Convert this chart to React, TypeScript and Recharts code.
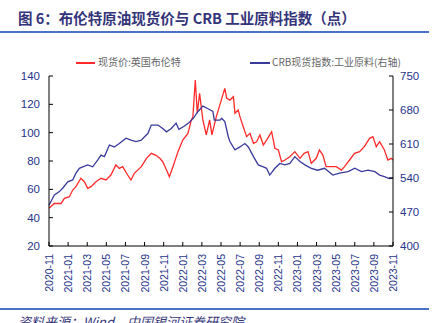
import React from "react";
import { LineChart, Line, XAxis, YAxis } from "recharts";

// months since 2020-11
const brentMonths = [
  0, 0.56, 1.26, 1.61, 2.13, 2.48, 2.82, 3.34, 3.7, 4.05, 4.4, 4.92, 5.44,
  5.96, 6.48, 7.0, 7.36, 7.71, 8.23, 8.58, 8.93, 9.66, 10.2, 10.7, 11.2, 11.6,
  11.9, 12.3, 12.6, 12.97, 13.5, 14.0, 14.54, 14.9, 15.06, 15.31, 15.52, 15.76,
  16.1, 16.46, 16.81, 17.05, 17.51, 18.03, 18.4, 18.6, 18.93, 19.3, 19.46,
  19.8, 19.98, 20.33, 20.68, 21.03, 21.4, 21.73, 22.07, 22.43, 22.77, 23.3,
  23.64, 24.0, 24.34, 24.69, 25.2, 25.73, 26.26, 26.7, 27.1, 27.45, 27.97, 28.3,
  28.66, 29.0, 29.5, 30.06, 30.6, 30.93, 31.45, 31.98, 32.5, 33.0, 33.55, 33.9,
  34.25, 34.6, 35.1, 35.46, 35.8, 36,
];
const brentValues = [
  46.6, 50, 50, 53.6, 54.8, 59.5, 61.9, 67.8, 65.4, 60.7, 61.9, 65.4, 67.8,
  66.6, 70.1, 77.2, 74.8, 76, 70.1, 66.6, 71.3, 76, 81.9, 85.4, 84, 81.9, 79.5,
  73.6, 68.9, 76, 86.6, 94.8, 99.5, 109, 111.3, 137.2, 113.7, 127.8, 109, 98.4,
  109, 98.4, 111.3, 123, 131.3, 124.3, 123, 125.4, 113.7, 116, 111.3, 104.2,
  97.2, 99.5, 92.5, 93.6, 98.4, 91.3, 94.8, 100.7, 89, 87.8, 79.5, 80.7, 83,
  86.6, 81.9, 85.4, 86.6, 78.4, 81.9, 87.8, 84.2, 76, 76, 76, 73.6, 76, 80.7,
  85.4, 86.6, 90.1, 96, 97.2, 90.1, 93.6, 87.8, 80.7, 81.9, 80.7,
];

const crbMonths = [
  0, 0.56, 1.09, 1.43, 1.96, 2.48, 2.82, 3.18, 3.53, 4.05, 4.57, 5.09, 5.44,
  5.8, 6.32, 6.84, 7.36, 8.05, 8.58, 9.1, 9.66, 10.0, 10.36, 10.7, 11.4, 11.9,
  12.3, 12.8, 13.3, 13.6, 14.1, 14.6, 15.1, 15.6, 16.1, 16.6, 17.15, 17.3, 17.9,
  18.07, 18.4, 18.76, 18.93, 19.46, 19.98, 20.5, 20.86, 21.4, 21.9, 22.43,
  22.77, 23.1, 23.64, 24.16, 24.69, 25.2, 25.73, 26.26, 26.78, 27.45, 28.1,
  28.84, 29.7, 30.4, 31.3, 32.0, 32.7, 33.4, 34.1, 34.6, 35.1, 35.6, 36,
];
const crbValues = [
  484, 505, 512, 519, 532, 536, 550, 560, 563, 567, 563, 577, 587, 584, 608,
  604, 611, 622, 618, 615, 618, 625, 632, 649, 649, 642, 635, 642, 653, 640,
  646, 653, 663, 677, 688, 683, 677, 659, 659, 663, 656, 625, 615, 598, 604,
  611, 604, 584, 567, 563, 560, 546, 560, 570, 567, 570, 584, 574, 567, 560,
  556, 560, 546, 550, 553, 560, 553, 556, 553, 546, 543, 539, 540,
];

const xTicks = [0, 2, 4, 6, 8, 10, 12, 14, 16, 18, 20, 22, 24, 26, 28, 30, 32, 34, 36];
const leftTicks = [20, 40, 60, 80, 100, 120, 140];
const rightTicks = [400, 470, 540, 610, 680, 750];

const brentData = brentMonths.map((m, i) => ({ m, brent: brentValues[i] }));
const crbData = crbMonths.map((m, i) => ({ m, crb: crbValues[i] }));

const RED = "#ff2a2a";
const BLUE = "#3a3a9c";
const NAVY = "#27348b";
const RULE = "#4a72c4";

const monthLabel = (v: number) => {
  const total = 2020 * 12 + 10 + v;
  const y = Math.floor(total / 12);
  const mo = (total % 12) + 1;
  return `${y}-${mo < 10 ? "0" + mo : mo}`;
};

const XTick = (props: any) => {
  const { x, payload } = props;
  return (
    <text
      x={x}
      y={254}
      transform={`rotate(-90, ${x}, 254)`}
      textAnchor="end"
      dominantBaseline="central"
      fontSize={10.5}
      fill={NAVY}
      fontFamily="Arial, 'Liberation Sans', sans-serif"
    >
      {monthLabel(payload.value)}
    </text>
  );
};

const tickFont = { fontSize: 11.5, fill: NAVY, fontFamily: "Arial, 'Liberation Sans', sans-serif" };

export default function App() {
  return (
    <div
      style={{
        position: "fixed",
        left: 0,
        top: 0,
        width: 434,
        height: 323,
        background: "#fff",
        overflow: "hidden",
        fontFamily: "'Noto Sans CJK SC', sans-serif",
      }}
    >
      <div
        style={{
          position: "absolute",
          left: 18,
          top: 8,
          fontSize: 14.5,
          fontWeight: 700,
          color: "#34347a",
          whiteSpace: "nowrap",
          lineHeight: "20px",
        }}
      >
        图 6：布伦特原油现货价与 CRB 工业原料指数（点）
      </div>
      <div style={{ position: "absolute", left: 0, top: 31, width: 429, height: 2, background: RULE }} />

      <div style={{ position: "absolute", left: 76, top: 62, width: 19, height: 1.5, background: RED }} />
      <div
        style={{ position: "absolute", left: 98, top: 55, fontSize: 10, color: "#666", whiteSpace: "nowrap", lineHeight: "14px" }}
      >
        现货价:英国布伦特
      </div>
      <div style={{ position: "absolute", left: 250, top: 62, width: 20, height: 1.5, background: BLUE }} />
      <div
        style={{ position: "absolute", left: 272, top: 55, fontSize: 10, color: "#666", whiteSpace: "nowrap", lineHeight: "14px" }}
      >
        CRB现货指数:工业原料(右轴)
      </div>

      <div style={{ position: "absolute", left: 0, top: 0 }}>
        <LineChart width={434} height={323} margin={{ top: 76, right: 0, bottom: 0, left: 0 }}>
          <XAxis
            xAxisId="x"
            dataKey="m"
            type="number"
            domain={[0, 36]}
            ticks={xTicks}
            interval={0}
            height={77}
            stroke="#000"
            tickSize={-4}
            tick={<XTick />}
            allowDuplicatedCategory={false}
          />
          <YAxis
            yAxisId="left"
            orientation="left"
            domain={[20, 140]}
            ticks={leftTicks}
            width={49}
            stroke="#000"
            tickSize={-4}
            tickMargin={13}
            tick={tickFont}
          />
          <YAxis
            yAxisId="right"
            orientation="right"
            domain={[400, 750]}
            ticks={rightTicks}
            width={41}
            stroke="#000"
            tickSize={-4}
            tickMargin={11}
            tick={tickFont}
          />
          <Line
            xAxisId="x"
            yAxisId="left"
            data={brentData}
            dataKey="brent"
            stroke={RED}
            strokeWidth={1.3}
            dot={false}
            isAnimationActive={false}
          />
          <Line
            xAxisId="x"
            yAxisId="right"
            data={crbData}
            dataKey="crb"
            stroke={BLUE}
            strokeWidth={1.3}
            dot={false}
            isAnimationActive={false}
          />
        </LineChart>
      </div>

      <div style={{ position: "absolute", left: 0, top: 308, width: 429, height: 2, background: RULE }} />
      <div
        style={{
          position: "absolute",
          left: 18,
          top: 313,
          fontSize: 13,
          fontStyle: "italic",
          color: "#34347a",
          whiteSpace: "nowrap",
          lineHeight: "18px",
        }}
      >
        资料来源：Wind，中国银河证券研究院
      </div>
    </div>
  );
}
